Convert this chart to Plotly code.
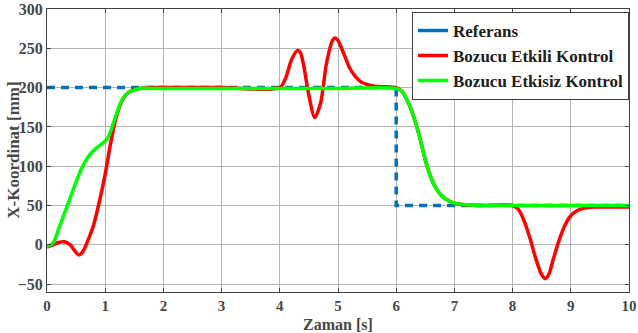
import plotly.graph_objects as go

# Reference signal
ref_t = [0, 6, 6, 10]
ref_x = [200, 200, 50, 50]

# Bozucu Etkili Kontrol (with disturbance)
red_t = [0, 0.1, 0.2, 0.3, 0.4, 0.48, 0.55, 0.62, 0.7, 0.8, 0.9, 1.0, 1.1, 1.2, 1.3, 1.4, 1.5, 1.6, 1.8, 2.0, 3.0,
         4.0, 4.1, 4.2, 4.3, 4.35, 4.4, 4.5, 4.6, 4.7, 4.8, 4.9, 4.95, 5.0, 5.1, 5.2, 5.3, 5.4, 5.5, 5.6, 5.8,
         6.0, 6.1, 6.2, 6.3, 6.4, 6.5, 6.6, 6.7, 6.8, 6.9, 7.0, 7.2, 7.5, 8.0,
         8.1, 8.2, 8.3, 8.4, 8.5, 8.56, 8.62, 8.7, 8.8, 8.9, 9.0, 9.1, 9.2, 9.4, 9.6, 10.0]
red_x = [-3, 0, 3, 4, 0, -8, -13, -8, 5, 25, 55, 90, 132, 165, 185, 194, 197, 199, 200, 200, 200,
         200, 212, 235, 247, 245, 232, 190, 162, 180, 230, 259, 263, 260, 243, 225, 214, 207, 204, 202, 201,
         200, 195, 182, 163, 138, 108, 85, 70, 61, 56, 53, 51, 50, 50,
         45, 30, 8, -18, -38, -43, -38, -18, 6, 25, 37, 43, 46, 48, 48, 48]

# Bozucu Etkisiz Kontrol (without disturbance)
grn_t = [0, 0.1, 0.2, 0.3, 0.4, 0.5, 0.6, 0.7, 0.8, 0.9, 1.0, 1.05, 1.1, 1.2, 1.3, 1.4, 1.5, 1.6, 1.8, 2.0,
         3.0, 4.0, 5.0, 6.0, 6.1, 6.2, 6.3, 6.4, 6.5, 6.6, 6.7, 6.8, 6.9, 7.0, 7.2, 7.5, 8.0, 9.0, 10.0]
grn_x = [-2, 2, 20, 40, 60, 80, 98, 111, 120, 126, 132, 137, 146, 168, 186, 194, 197, 199, 199, 199,
         199, 199, 199, 199, 195, 182, 163, 138, 108, 85, 70, 61, 56, 53, 51, 50, 50, 50, 50]

x_ticks = [0, 1, 2, 3, 4, 5, 6, 7, 8, 9, 10]
y_ticks = [-50, 0, 50, 100, 150, 200, 250, 300]

FONT = "Liberation Serif"
TXT = "#474747"

fig = go.Figure()
fig.add_trace(go.Scatter(x=ref_t, y=ref_x, mode="lines", name="Referans", showlegend=False,
                         line=dict(color="#0072BD", width=3.5, dash="8px,6px")))
# legend-only entry so the legend shows a solid blue key as in the original
fig.add_trace(go.Scatter(x=[None], y=[None], mode="lines", name="Referans", legendrank=1,
                         line=dict(color="#0072BD", width=3.5)))
fig.add_trace(go.Scatter(x=red_t, y=red_x, mode="lines", name="Bozucu Etkili Kontrol", legendrank=2,
                         line=dict(color="#FF0000", width=3.5, shape="spline", smoothing=0.8)))
fig.add_trace(go.Scatter(x=grn_t, y=grn_x, mode="lines", name="Bozucu Etkisiz Kontrol", legendrank=3,
                         line=dict(color="#00FF00", width=3.5, shape="spline", smoothing=0.8)))

axis_common = dict(showgrid=True, gridcolor="#b5b5b5", gridwidth=1, zeroline=False,
                   showline=True, linecolor="#404040", linewidth=1, mirror="ticks",
                   ticks="inside", ticklen=4, tickcolor="#404040", automargin=False)

fig.update_layout(
    width=638, height=333,
    margin=dict(l=47, r=9, t=9, b=41, autoexpand=False),
    plot_bgcolor="white", paper_bgcolor="white",
    showlegend=True,
    legend=dict(x=1, xanchor="right", y=0.99, yanchor="top",
                bgcolor="white", bordercolor="#404040", borderwidth=1,
                font=dict(family=FONT, size=17, color="#202020", weight="bold"),
                itemwidth=30, tracegroupgap=0),
    xaxis=dict(range=[0, 10], tickvals=x_ticks,
               tickfont=dict(family=FONT, size=15, color=TXT, weight="bold"), **axis_common),
    yaxis=dict(range=[-60, 300], tickvals=y_ticks,
               tickfont=dict(family=FONT, size=16, color=TXT, weight="bold"), **axis_common),
    annotations=[
        dict(text="Zaman [s]", xref="paper", yref="paper", x=0.5, y=-0.115,
             xanchor="center", yanchor="middle", showarrow=False,
             font=dict(family=FONT, size=16, color=TXT, weight="bold")),
        dict(text="X-Koordinat [mm]", xref="paper", yref="paper", x=-0.058, y=0.5,
             xanchor="center", yanchor="middle", showarrow=False, textangle=-90,
             font=dict(family=FONT, size=17, color=TXT, weight="bold")),
    ],
)

fig.write_html("out.html", config={"displayModeBar": False},
               post_script="document.body.style.margin='0';document.body.style.overflow='hidden';")
